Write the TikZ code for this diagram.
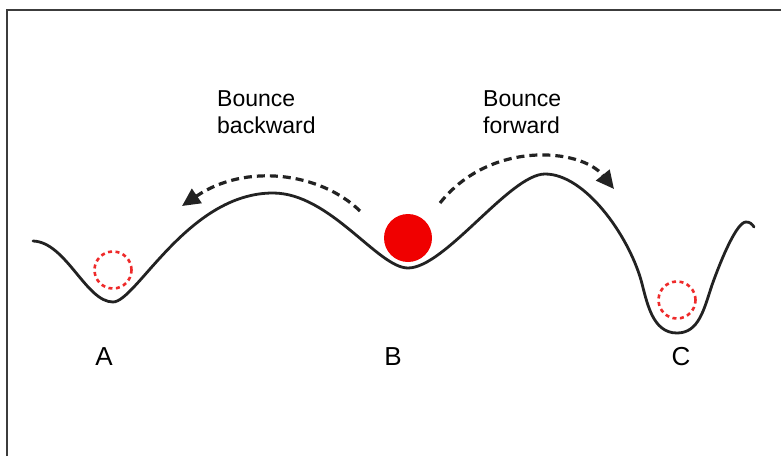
\documentclass[tikz,border=0pt]{standalone}
\usepackage{fontspec}
\setmainfont{Liberation Sans}
\usetikzlibrary{arrows.meta}
\definecolor{ink}{HTML}{222222}
\definecolor{frame}{HTML}{3C3C3C}
\definecolor{ghost}{HTML}{EE2A2A}
\definecolor{ball}{HTML}{F00000}
\tikzset{
  ground/.style={draw=ink, line width=2.8pt, line cap=round, line join=round},
  bouncearrow/.style={draw=ink, line width=3.2pt, dash pattern=on 8pt off 5pt, -{Triangle[length=18pt,width=17pt]}},
  ghostball/.style={circle, draw=ghost, line width=2.6pt, dash pattern=on 4pt off 3.5pt, minimum size=37pt, inner sep=0pt},
  realball/.style={circle, fill=ball, minimum size=48pt, inner sep=0pt},
  caption/.style={font=\fontsize{23}{27}\selectfont, align=left, anchor=north west, inner sep=0pt},
  letter/.style={font=\fontsize{26}{30}\selectfont, inner sep=0pt}
}
\begin{document}
\begin{tikzpicture}[x=1pt, y=-1pt]
\useasboundingbox (0,0) rectangle (781,456);
% frame
\draw[frame, line width=2.2pt] (7,456) -- (7,9.7) -- (781,9.7);
% landscape
\draw[ground] (33,241)
  .. controls (66,242) and (86,302) .. (113,302)
  .. controls (136,302) and (188,193) .. (273,193)
  .. controls (330,193) and (378,268) .. (408,268)
  .. controls (445,268) and (510,174) .. (545,174)
  .. controls (585,174) and (628,235) .. (641,280)
  .. controls (647,302) and (652,333) .. (677,333)
  .. controls (699,333) and (704,309) .. (712,285)
  .. controls (722,257) and (737,222) .. (746,222)
  .. controls (750,222) and (752,224) .. (754,227);
% balls
\node[ghostball] (ga) at (113,270) {};
\node[ghostball] (gc) at (677,300) {};
\node[realball] (b) at (408,238) {};
% arrows
\coordinate (bs) at (360,211);
\coordinate (be) at (182,206);
\coordinate (fs) at (440,203);
\coordinate (fe) at (614,189);
\draw[bouncearrow] (bs) .. controls (320,172) and (245,163) .. (be);
\draw[bouncearrow] (fs) .. controls (490,140) and (581,148) .. (fe);
% captions
\node[caption] (lb) at (217,90) {Bounce\\backward};
\node[caption] (lf) at (483,90) {Bounce\\forward};
\node[letter] (la) at (104,357) {A};
\node[letter] (lbb) at (393,357) {B};
\node[letter] (lc) at (681,357) {C};
\end{tikzpicture}
\end{document}
